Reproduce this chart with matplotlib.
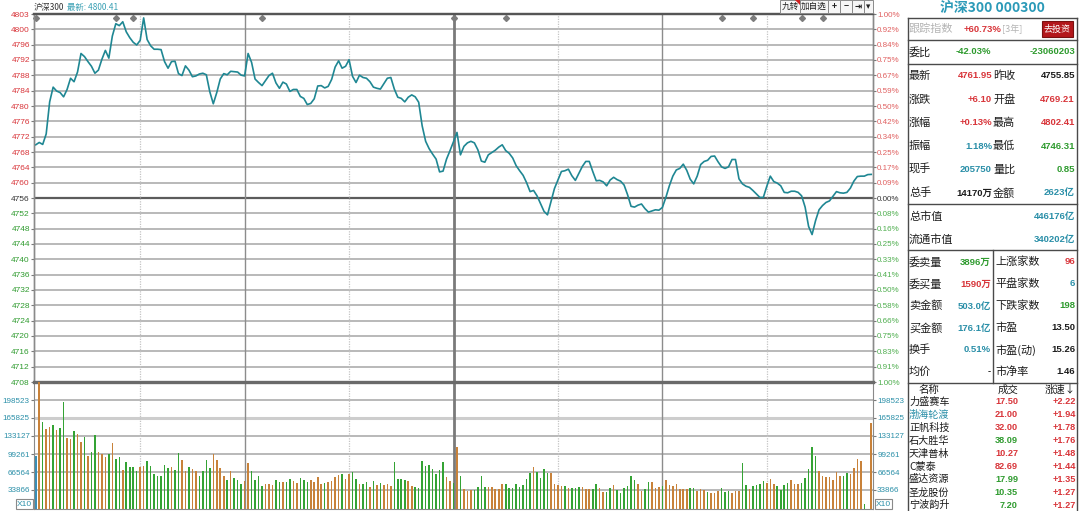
import numpy as np
import matplotlib
matplotlib.use('Agg')
import matplotlib.pyplot as plt
from matplotlib.patches import Rectangle, Polygon
from matplotlib.lines import Line2D

plt.rcParams['font.family'] = ['Noto Sans CJK SC', 'DejaVu Sans']

# ---- data ----
prev_close = 4755.85

price = [
    4769.6, 4770.2, 4769.7, 4772.4, 4780.7, 4784.5, 4783.5, 4783.1, 4782.0, 4783.9,
    4786.8, 4785.9, 4788.4, 4793.2, 4792.4, 4791.1, 4789.9, 4788.1, 4788.9, 4791.7,
    4794.0, 4792.0, 4797.7, 4800.9, 4800.4, 4801.4, 4798.8, 4797.3, 4796.1, 4795.4,
    4796.6, 4802.4, 4796.8, 4795.2, 4794.3, 4794.3, 4794.2, 4791.1, 4789.4, 4791.1,
    4791.2, 4788.0, 4787.5, 4790.0, 4788.9, 4787.2, 4787.4, 4787.9, 4788.1, 4787.7,
    4783.3, 4780.2, 4783.1, 4786.6, 4788.0, 4787.7, 4788.6, 4788.5, 4788.4, 4787.6,
    4787.4, 4793.2, 4790.9, 4786.6, 4785.7, 4784.9, 4786.2, 4787.5, 4788.1, 4785.6,
    4784.2, 4785.8, 4785.3, 4783.4, 4783.9, 4783.9, 4782.1, 4781.6, 4780.0, 4780.3,
    4781.5, 4784.8, 4784.9, 4784.3, 4784.7, 4786.5, 4789.7, 4791.3, 4789.4, 4789.9,
    4791.6, 4787.3, 4785.7, 4787.6, 4787.0, 4786.8, 4785.9, 4784.5, 4784.2, 4784.0,
    4785.4, 4786.8, 4787.0, 4784.0, 4781.9, 4781.6, 4780.7, 4781.9, 4782.5, 4782.0,
    4780.6, 4774.5, 4770.5, 4768.6, 4767.2, 4765.9, 4762.6, 4762.8, 4765.9, 4768.1,
    4770.4, 4772.8, 4767.0, 4769.2, 4770.1, 4770.5, 4770.1, 4768.3, 4765.4, 4765.1,
    4767.0, 4767.6, 4768.2, 4769.0, 4769.6, 4768.1, 4767.4, 4766.2, 4764.2, 4762.9,
    4761.7, 4759.8, 4757.5, 4757.8, 4756.4, 4754.4, 4752.4, 4751.5, 4754.9, 4758.3,
    4760.5, 4762.7, 4762.9, 4763.3, 4761.6, 4760.4, 4762.2, 4764.0, 4765.3, 4765.3,
    4762.7, 4760.3, 4760.4, 4760.0, 4759.0, 4760.5, 4761.2, 4760.6, 4760.2, 4759.2,
    4756.7, 4753.7, 4753.5, 4754.0, 4754.3, 4753.1, 4752.2, 4752.5, 4752.8, 4752.7,
    4753.4, 4756.0, 4759.0, 4761.5, 4763.1, 4763.5, 4764.6, 4763.0, 4760.7, 4759.5,
    4761.5, 4764.5, 4765.3, 4765.6, 4766.6, 4766.7, 4765.2, 4763.9, 4763.5, 4763.9,
    4765.8, 4765.8, 4760.8, 4759.5, 4758.9, 4758.6, 4757.8, 4756.9, 4756.0, 4756.0,
    4758.9, 4761.5, 4760.1, 4759.7, 4759.0, 4757.3, 4757.2, 4757.6, 4757.6, 4757.3,
    4756.4, 4753.5, 4748.5, 4746.4, 4750.0, 4752.8, 4753.9, 4754.7, 4755.1, 4756.3,
    4757.5, 4757.2, 4757.1, 4757.3, 4758.4, 4760.2, 4761.4, 4761.5, 4761.5, 4761.9,
    4761.95,
]

volume = [
    95600, 260000, 158600, 145000, 149900, 152400, 143100, 148100, 195600, 129600,
    126500, 141900, 137000, 121500, 131400, 96900, 103700, 134500, 103000, 100600,
    93800, 100600, 120300, 91300, 94400, 71000, 84500, 75300, 75300, 67900,
    75900, 78400, 87600, 78400, 63600, 59800, 59800, 79600, 74000, 75300,
    71000, 101800, 89500, 67900, 75900, 72200, 67900, 59800, 67900, 89500,
    74000, 100600, 89500, 74000, 58600, 52400, 69100, 55500, 52400, 45000,
    50600, 83300, 67900, 52400, 58600, 41300, 45000, 44400, 43200, 52400,
    49400, 49400, 48100, 53700, 51200, 47500, 55500, 52400, 48100, 52400,
    49400, 57400, 45000, 47500, 49400, 51200, 57400, 61700, 62900, 54300,
    63600, 67300, 54900, 45700, 45000, 48100, 40100, 51200, 43200, 47500,
    43200, 45000, 41300, 85100, 54300, 53700, 52400, 51200, 41300, 40100,
    37000, 87600, 78400, 79000, 72200, 63600, 71000, 84500, 57400, 51200,
    47500, 112900, 59800, 35200, 32100, 33900, 33900, 38900, 58600, 38900,
    38900, 38900, 35200, 35200, 44400, 45700, 37600, 38300, 44400, 38900,
    43800, 53700, 64800, 75900, 67300, 55500, 72200, 64800, 64800, 45000,
    42600, 41300, 41300, 37000, 37000, 37000, 38900, 38900, 35800, 35800,
    35200, 45000, 37000, 29600, 30200, 37000, 43200, 33900, 27800, 37000,
    41300, 59800, 52400, 45000, 32700, 36400, 48700, 48100, 37000, 38900,
    41300, 52400, 42600, 41300, 45000, 35800, 35800, 35200, 38300, 38300,
    32700, 35200, 33900, 30900, 29000, 29000, 32700, 37000, 30900, 32100,
    27800, 32100, 32700, 83300, 42600, 35200, 41300, 43200, 44400, 50600,
    47500, 53700, 45000, 41300, 33900, 43200, 46300, 52400, 44400, 44400,
    47500, 56100, 72200, 112900, 96900, 69100, 59800, 56800, 57400, 52400,
    67300, 58600, 59800, 64800, 62900, 74000, 91300, 87600, 8000, 0,
    157300,
]

# b = auction, o = up minute, g = down minute
vol_dir = ("bogoogoggo" "ogoogoggoo" "ogoggogggg" "oogggggggo" "ggoogooggg"
           "goooogoggg" "ooggggooog" "goggoogggo" "ooogoooogo" "oggoggogog"
           "oooggggoog" "ggggggggoo" "gogooogggg" "oooooggggg" "gggoggggoo"
           "oogogggooo" "ggooggoggg" "gggooggooo" "gooooooogg" "ooogoooggg"
           "oooggogggg" "oooggggooo" "gggggooooo" "ooggoooogg" "o")

event_minutes = [0, 23, 28, 65, 120, 135, 197, 206, 220, 226]

price_labels = ['4803', '4800', '4796', '4792', '4788', '4784', '4780', '4776', '4772',
                '4768', '4764', '4760', '4756', '4752', '4748', '4744', '4740', '4736',
                '4732', '4728', '4724', '4720', '4716', '4712', '4708']
pct_labels = ['1.00%', '0.92%', '0.84%', '0.75%', '0.67%', '0.59%', '0.50%', '0.42%',
              '0.34%', '0.25%', '0.17%', '0.09%', '0.00%', '0.08%', '0.16%', '0.25%',
              '0.33%', '0.41%', '0.50%', '0.58%', '0.66%', '0.75%', '0.83%', '0.91%', '1.00%']
vol_ticks = [33866, 66564, 99261, 133127, 165825, 198523]

quote_l_names = ['最新', '涨跌', '涨幅', '振幅', '现手', '总手']
quote_l_vals = ['4761.95', '+6.10', '+0.13%', '1.18%', '205750', '14170万']
quote_r_names = ['昨收', '开盘', '最高', '最低', '量比', '金额']
quote_r_vals = ['4755.85', '4769.21', '4802.41', '4746.31', '0.85', '2623亿']
quote_l_cols = ['r', 'r', 'r', 't', 't', 'k']
quote_r_cols = ['k', 'r', 'r', 'g', 'g', 't']

cap_names = ['总市值', '流通市值']
cap_vals = ['446176亿', '340202亿']

book_l_names = ['委卖量', '委买量', '卖金额', '买金额', '换手', '均价']
book_l_vals = ['3896万', '1590万', '503.0亿', '176.1亿', '0.51%', '-']
book_l_cols = ['g', 'r', 't', 't', 't', 'k']
book_r_names = ['上涨家数', '平盘家数', '下跌家数', '市盈', '市盈(动)', '市净率']
book_r_vals = ['96', '6', '198', '13.50', '15.26', '1.46']
book_r_cols = ['r', 't', 'g', 'k', 'k', 'k']

stock_names = ['力盛赛车', '渤海轮渡', '正帆科技', '石大胜华', '天津普林',
               'C蒙泰', '盛达资源', '圣龙股份', '宁波韵升']
stock_prices = ['17.50', '21.00', '32.00', '38.09', '10.27', '82.69', '17.99', '10.35', '7.20']
stock_price_cols = ['r', 'r', 'r', 'g', 'r', 'r', 'g', 'g', 'g']
stock_speed = ['+2.22', '+1.94', '+1.78', '+1.76', '+1.48', '+1.44', '+1.35', '+1.27', '+1.27']

# ---- styles ----
RED = '#d8353a'
GREEN = '#2f9b2f'
TEAL = '#2a8fa8'
BLACK = '#1c1c1c'
COLS = {'r': RED, 'g': GREEN, 't': TEAL, 'k': BLACK}
NUM = ['Liberation Sans', 'Noto Sans CJK SC', 'DejaVu Sans']
GRID = '#a6a6a6'

W, H = 1080, 511
fig = plt.figure(figsize=(W / 100, H / 100), dpi=100)
fig.patch.set_facecolor('white')


def fx(x):
    return x / W


def fy(y):
    return 1 - y / H


def rect(x0, y0, x1, y1):
    return [fx(x0), fy(y1), (x1 - x0) / W, (y1 - y0) / H]


def put(x, y, s, color=BLACK, size=7.5, ha='left', weight='normal', family=None, **kw):
    if family is not None:
        kw['family'] = family
    fig.text(fx(x), fy(y), s, color=color, fontsize=size, ha=ha, va='center',
             weight=weight, **kw)


def hline(y, x0, x1, color='#4a4a4a', lw=1.0):
    fig.add_artist(Line2D([fx(x0), fx(x1)], [fy(y), fy(y)], color=color, lw=lw,
                          transform=fig.transFigure))


def vline(x, y0, y1, color='#4a4a4a', lw=1.0):
    fig.add_artist(Line2D([fx(x), fx(x)], [fy(y0), fy(y1)], color=color, lw=lw,
                          transform=fig.transFigure))


minutes = np.arange(len(price))
lo, hi = prev_close * 0.99, prev_close * 1.01
grid_vals = prev_close * (1 + 0.01 * np.arange(12, -13, -1) / 12)

# ---- price panel ----
ax = fig.add_axes(rect(34, 14, 873, 382))
ax.set_xlim(-0.5, 240.5)
ax.set_ylim(lo, hi)
for i, v in enumerate(grid_vals):
    if i in (0, 24):
        continue
    if i == 12:
        ax.axhline(v, color='#5c5c5c', lw=1.6, zorder=1)
    else:
        ax.axhline(v, color=GRID, lw=1.1, zorder=1)

for m in [30, 90, 150, 210]:
    ax.axvline(m, color='#c4c4c4', lw=0.9, ls=(0, (1, 1)), zorder=1)
for m in [60, 180]:
    ax.axvline(m, color='#8c8c8c', lw=1.0, zorder=1)
ax.axvline(120, color='#7a7a7a', lw=2.0, zorder=1)

ax.plot(minutes, price, color='#1f8793', lw=1.2, zorder=3)
ax.plot(event_minutes, [0.988] * len(event_minutes), 'D', color='#7c7c7c', ms=3,
        transform=ax.get_xaxis_transform(), clip_on=False, zorder=4)

ax.set_xticks([])
ax.set_yticks(grid_vals)
ax.set_yticklabels(price_labels, family=NUM, fontsize=6)
ax.tick_params(axis='y', length=2, pad=1, color='#7a7a7a')
for i, t in enumerate(ax.get_yticklabels()):
    t.set_color(RED if i < 12 else ('#333333' if i == 12 else GREEN))

axr = ax.twinx()
axr.set_ylim(lo, hi)
axr.set_yticks(grid_vals)
axr.set_yticklabels(pct_labels, family=NUM, fontsize=5.8)
axr.tick_params(axis='y', length=2, pad=1, color='#7a7a7a')
for i, t in enumerate(axr.get_yticklabels()):
    t.set_color('#e06060' if i < 12 else ('#333333' if i == 12 else '#4fae4f'))

for a in (ax, axr):
    for s in a.spines.values():
        s.set_color('#8a8a8a')
        s.set_linewidth(1.0)
    a.spines['top'].set_color('#555555')
    a.spines['top'].set_linewidth(1.6)
    a.spines['bottom'].set_visible(False)

# ---- volume panel ----
axv = fig.add_axes(rect(34, 382, 873, 508.5))
axv.set_xlim(-0.5, 240.5)
axv.set_ylim(0, 231500)
for v in vol_ticks:
    if v == 165825:
        axv.axhline(v, color='#cdcdcd', lw=2.2, zorder=1)
    else:
        axv.axhline(v, color=GRID, lw=1.1, zorder=1)
for m in [30, 90, 150, 210]:
    axv.axvline(m, color='#c4c4c4', lw=0.9, ls=(0, (1, 1)), zorder=1)
for m in [60, 180]:
    axv.axvline(m, color='#8c8c8c', lw=1.0, zorder=1)
axv.axvline(120, color='#7a7a7a', lw=2.0, zorder=1)

bar_cols = [{'b': '#3a8fb5', 'o': '#c8823a', 'g': '#34a334'}[c] for c in vol_dir]
axv.bar(minutes, volume, width=0.45, color=bar_cols, zorder=3)

axv.set_xticks([])
axv.set_yticks(vol_ticks)
axv.set_yticklabels([str(v) for v in vol_ticks], family=NUM, fontsize=5.8, color=TEAL)
axv.tick_params(axis='y', length=2, pad=1, color='#7a7a7a', right=True, labelright=True)
for s in axv.spines.values():
    s.set_color('#8a8a8a')
axv.spines['top'].set_color('#6a6a6a')
axv.spines['top'].set_linewidth(2.4)

for xx, ha in [(32, 'right'), (876, 'left')]:
    put(xx, 504, 'X10', color=TEAL, size=6, ha=ha, family=NUM,
        bbox=dict(boxstyle='square,pad=0.15', fc='white', ec='#8a8a8a', lw=0.8))

# ---- header above the chart ----
put(34, 7, '沪深300', color='#333333', size=6.0)
put(67, 7, '最新: 4800.41', color='#3aa0b4', size=6.0)

toolbar = ['九转', '加自选', '+', '−', '⇥', '▾']
edges = [780, 800, 828, 840, 852, 864, 873]
for lab, x0, x1 in zip(toolbar, edges[:-1], edges[1:]):
    fig.add_artist(Rectangle((fx(x0), fy(13)), (x1 - x0) / W, 13 / H,
                             transform=fig.transFigure, fc='#f6f6f6', ec='#8a8a8a', lw=0.7))
    put((x0 + x1) / 2, 6.5, lab, color='#222222', size=6.2, ha='center',
        weight='bold' if len(lab) == 1 else 'normal')
fig.add_artist(Polygon([[fx(795), fy(0)], [fx(800), fy(0)], [fx(800), fy(5)]], closed=True,
                       transform=fig.transFigure, fc='#d02020', ec='none'))

# ---- right info panel ----
vline(908, 18, 511)
vline(1077, 18, 511)
for yy in [18, 40, 64, 204, 250, 383]:
    hline(yy, 908, 1077)
vline(993, 250, 383)

put(992, 8, '沪深300 000300', color='#2b9ab8', size=10, ha='center', weight='bold')
put(909, 29, '跟踪指数', color='#b4b4b4', size=8)
put(1001, 29, '+60.73%', color=RED, size=6.8, ha='right', weight='bold', family=NUM)
put(1002, 29, '[3年]', color='#b4b4b4', size=6.5)
fig.add_artist(Rectangle((fx(1042), fy(37)), 31 / W, 16 / H, transform=fig.transFigure,
                         fc='#b3171b', ec='#7a1010', lw=0.8))
put(1057.5, 29, '去投资', color='white', size=6.5, ha='center')

put(909, 52, '委比', size=8)
put(991, 52, '-42.03%', color=GREEN, size=6.8, ha='right', weight='bold', family=NUM)
put(1075, 52, '-23060203', color=GREEN, size=6.8, ha='right', weight='bold', family=NUM)

for i in range(len(quote_l_names)):
    yy = 76 + i * 23.4
    put(909, yy, quote_l_names[i], size=8)
    put(992, yy, quote_l_vals[i], color=COLS[quote_l_cols[i]], size=6.8, ha='right',
        weight='bold', family=NUM)
    put(993, yy, quote_r_names[i], size=8)
    put(1075, yy, quote_r_vals[i], color=COLS[quote_r_cols[i]], size=6.8, ha='right',
        weight='bold', family=NUM)

for i in range(len(cap_names)):
    yy = 217 + i * 22.5
    put(909, yy, cap_names[i], size=8)
    put(1075, yy, cap_vals[i], color=TEAL, size=6.8, ha='right', weight='bold', family=NUM)

for i in range(len(book_l_names)):
    yy = 262 + i * 22
    put(909, yy, book_l_names[i], size=8)
    put(991, yy, book_l_vals[i], color=COLS[book_l_cols[i]], size=6.8, ha='right',
        weight='bold', family=NUM)
    put(995, yy, book_r_names[i], size=8)
    put(1075, yy, book_r_vals[i], color=COLS[book_r_cols[i]], size=6.8, ha='right',
        weight='bold', family=NUM)

put(929, 390, '名称', size=7.5, ha='center')
put(1008, 390, '成交', size=7.5, ha='center')
put(1076, 390, '涨速↓', size=7.5, ha='right')
for i in range(len(stock_names)):
    yy = 402 + i * 12.9
    put(909, yy, stock_names[i], color=TEAL if i == 1 else BLACK, size=7.3)
    put(1018, yy, stock_prices[i], color=COLS[stock_price_cols[i]], size=6.6, ha='right',
        weight='bold', family=NUM)
    put(1076, yy, stock_speed[i], color=RED, size=6.6, ha='right', weight='bold', family=NUM)

fig.savefig('out.png', dpi=100, facecolor='white')
